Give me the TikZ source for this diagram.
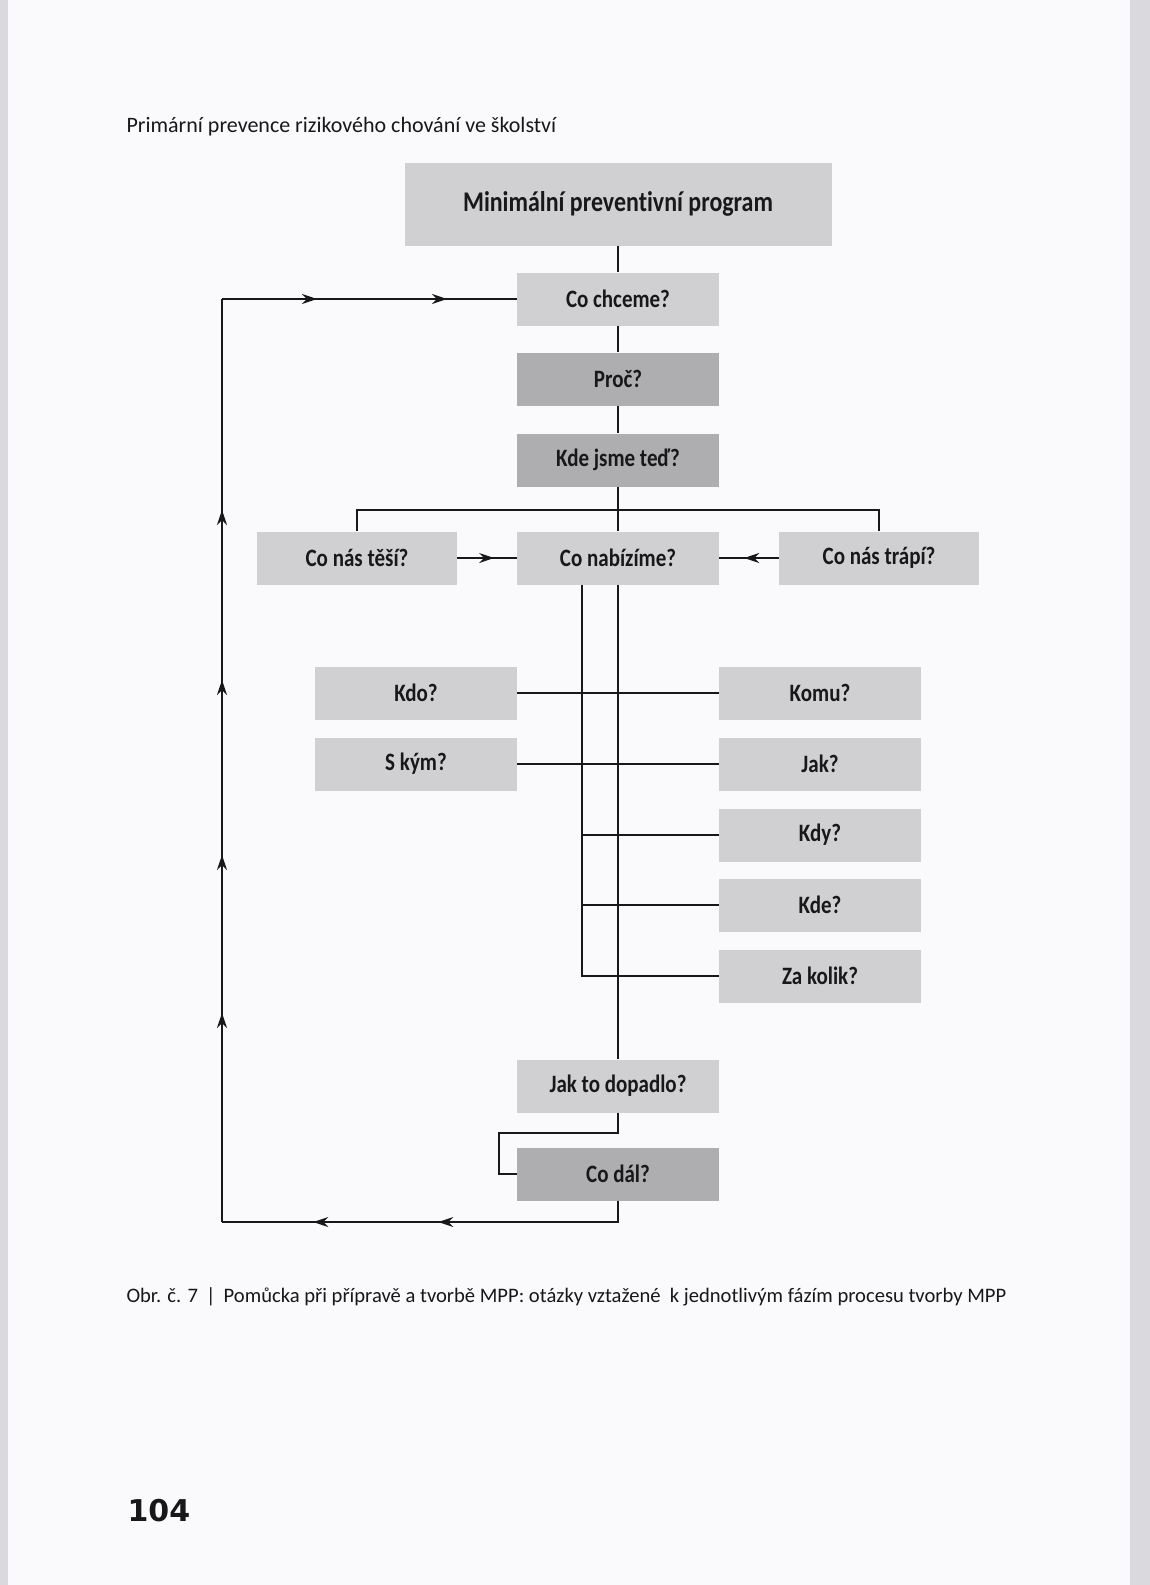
\documentclass[tikz,border=0pt]{standalone}
\usepackage{fontspec}
\setmainfont{Carlito}
\newfontfamily\boxfont[FakeStretch=0.84,Ligatures=NoCommon]{Carlito}
\newfontfamily\numfont{DejaVu Sans}
\usetikzlibrary{arrows.meta,decorations.markings}
\definecolor{pagebg}{RGB}{250,250,252}
\definecolor{edgegray}{RGB}{218,218,222}
\definecolor{boxlight}{RGB}{208,208,210}
\definecolor{boxdark}{RGB}{174,174,176}
\definecolor{ink}{RGB}{24,24,26}
\tikzset{
	qbox/.style={fill=boxlight, minimum width=202pt, minimum height=53pt, inner sep=0pt, text=ink, font=\boxfont\bfseries\fontsize{25}{30}\selectfont},
	qdark/.style={qbox, fill=boxdark},
	link/.style={draw=ink, line width=1.7pt},
	arrowat/.style={postaction={decorate, decoration={markings, mark=at position #1 with {\arrow{Stealth[length=15pt,width=10pt]}}}}},
}
\begin{document}
\begin{tikzpicture}[x=1pt,y=-1pt]
	\useasboundingbox (0,0) rectangle (1150,1585);
	\fill[pagebg] (0,0) rectangle (1150,1585);
	\fill[edgegray] (0,0) rectangle (8,1585);
	\fill[edgegray] (1130,0) rectangle (1150,1585);

	\node[anchor=west, text=ink, font=\fontsize{22}{26}\selectfont] (head) at (123,127) {Primární prevence rizikového chování ve školství};

	\node[qbox, minimum width=427pt, minimum height=83pt, font=\boxfont\bfseries\fontsize{28.5}{34}\selectfont] (mpp) at (618,204) {Minimální preventivní program};
	\node[qbox] (chceme) at (618,299) {Co chceme?};
	\node[qdark] (proc) at (618,379) {Proč?};
	\node[qdark] (jsme) at (618,460) {Kde jsme teď?};
	\node[qbox, minimum width=200pt] (tesi) at (357,558) {Co nás těší?};
	\node[qbox] (nabizime) at (618,558) {Co nabízíme?};
	\node[qbox, minimum width=200pt] (trapi) at (879,558) {Co nás trápí?};
	\node[qbox] (kdo) at (416,693) {Kdo?};
	\node[qbox] (komu) at (820,693) {Komu?};
	\node[qbox] (skym) at (416,764) {S kým?};
	\node[qbox] (jak) at (820,764) {Jak?};
	\node[qbox] (kdy) at (820,835) {Kdy?};
	\node[qbox] (kde) at (820,905) {Kde?};
	\node[qbox] (zakolik) at (820,976) {Za kolik?};
	\node[qbox] (dopadlo) at (618,1086) {Jak to dopadlo?};
	\node[qdark] (codal) at (618,1174) {Co dál?};

	\coordinate (bar) at (618,510);
	\coordinate (sp) at (582,0);
	\coordinate (br) at (499,1133);
	\coordinate (bl) at (222,1222);
	\coordinate (tl) at (222,299);

	\draw[link] (mpp) -- (chceme);
	\draw[link] (chceme) -- (proc);
	\draw[link] (proc) -- (jsme);
	\draw[link] (jsme) -- (nabizime);
	\draw[link] (tesi.north) |- (bar) -| (trapi.north);
	\draw[link, arrowat=0.62] (tesi) -- (nabizime);
	\draw[link, arrowat=0.58] (trapi) -- (nabizime);
	\draw[link] (nabizime) -- (dopadlo);
	\draw[link] (nabizime.south -| sp) |- (zakolik.west);
	\draw[link] (kdo) -- (komu);
	\draw[link] (skym) -- (jak);
	\draw[link] (kdy.west -| sp) -- (kdy.west);
	\draw[link] (kde.west -| sp) -- (kde.west);
	\draw[link] (dopadlo.south) |- (br) |- (codal.west);
	\draw[link, arrowat=201pt, arrowat=326pt] (codal.south) |- (bl);
	\draw[link, arrowat=209pt, arrowat=367pt, arrowat=542pt, arrowat=712pt] (bl) -- (tl);
	\draw[link, arrowat=95pt, arrowat=225pt] (tl) -- (chceme.west);

	\node[anchor=west, text=ink, font=\fontsize{20.6}{25}\selectfont] (caption) at (123,1297) {Obr. č. 7 \,|\, Pomůcka při přípravě a tvorbě MPP: otázky vztažené \ k jednotlivým fázím procesu tvorby MPP};
	\node[anchor=west, text=ink, font=\numfont\bfseries\fontsize{30}{36}\selectfont] (page) at (124,1511) {104};
\end{tikzpicture}
\end{document}
